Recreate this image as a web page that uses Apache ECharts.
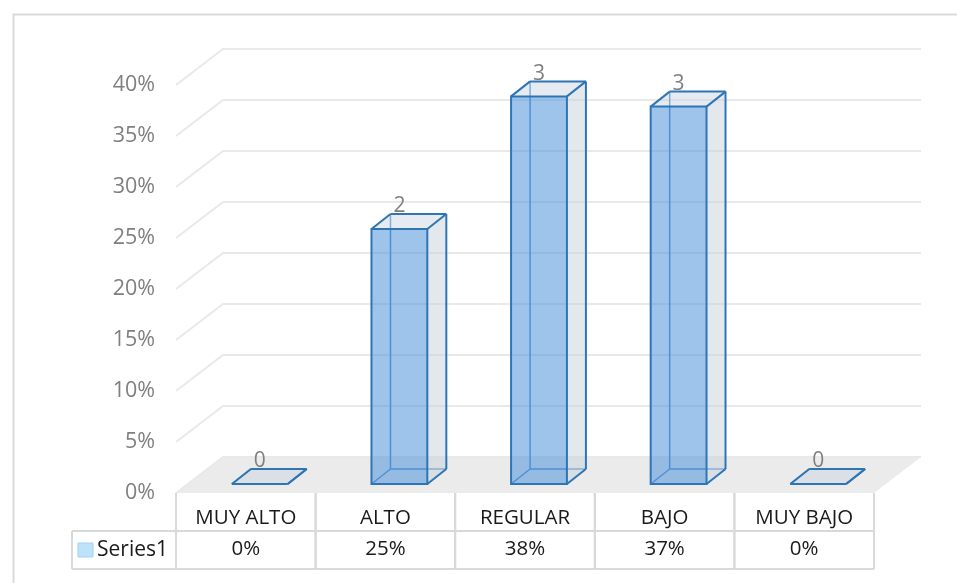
<!DOCTYPE html>
<html>
<head>
<meta charset="utf-8">
<script src="https://cdn.jsdelivr.net/npm/echarts@6/dist/echarts.min.js"></script>
<style>
  html, body { margin: 0; padding: 0; background: #fff; }
  #chart { width: 957px; height: 583px; }
</style>
</head>
<body>
<div id="chart"></div>
<script>
const categories = ['MUY ALTO', 'ALTO', 'REGULAR', 'BAJO', 'MUY BAJO'];
const percentValues = [0, 0.25, 0.38, 0.37, 0];
const countLabels = [0, 2, 3, 3, 0];
const tickValues = [0, 0.05, 0.1, 0.15, 0.2, 0.25, 0.3, 0.35, 0.4];
const seriesName = 'Series1';

const chart = echarts.init(document.getElementById('chart'));

// depth of the 3d floor / back wall
const DX = 47;
const DY = 36;
// bar front and back depth offsets
const FX = 14, FY = 9;
const BX = 33, BY = 24;

const FONT = '"Open Sans", "Liberation Sans", sans-serif';
const pct = v => Math.round(v * 100) + '%';

function renderGridLine(params, api) {
  const cs = params.coordSys;
  const y = api.coord([0, api.value(1)])[1];
  return {
    type: 'polyline',
    shape: { points: [[cs.x, y], [cs.x + DX, y - DY], [cs.x + cs.width + DX, y - DY]] },
    style: { stroke: '#e9e9e9', lineWidth: 2, fill: null }
  };
}

function renderFloor(params, api) {
  const cs = params.coordSys;
  const y = api.coord([0, 0])[1];
  return {
    type: 'polygon',
    shape: { points: [[cs.x, y], [cs.x + cs.width, y], [cs.x + cs.width + DX, y - DY], [cs.x + DX, y - DY]] },
    style: { fill: '#ebebeb' }
  };
}

function renderBar(params, api) {
  const i = api.value(0);
  const v = api.value(1);
  const c0 = api.coord([i, 0]);
  const c1 = api.coord([i, v]);
  const bw = api.size([1, 0])[0];
  const w = bw * 0.4;
  const x0 = c0[0] - w / 2 + FX, x1 = x0 + w;
  const yb = c0[1] - FY, yt = c1[1] - FY;
  const X0 = c0[0] - w / 2 + BX, X1 = X0 + w;
  const Yb = c0[1] - BY, Yt = c1[1] - BY;
  const hidden = { stroke: '#4a8bd0', lineWidth: 1.5 };
  const edge = { stroke: '#2e75b6', lineWidth: 2 };
  const line = (a, b, st) => ({ type: 'line', shape: { x1: a[0], y1: a[1], x2: b[0], y2: b[1] }, style: st });
  return {
    type: 'group',
    children: [
      line([X0, Yb], [X0, Yt], hidden),
      line([X0, Yb], [X1, Yb], hidden),
      line([x0, yb], [X0, Yb], hidden),
      { type: 'polygon', shape: { points: [[x1, yb], [X1, Yb], [X1, Yt], [x1, yt]] }, style: { fill: 'rgba(200,210,220,0.5)' } },
      { type: 'polygon', shape: { points: [[x0, yt], [x1, yt], [X1, Yt], [X0, Yt]] }, style: { fill: 'rgba(200,210,224,0.45)' } },
      { type: 'rect', shape: { x: x0, y: yt, width: w, height: yb - yt }, style: { fill: 'rgba(80,148,220,0.55)' } },
      { type: 'rect', shape: { x: x0, y: yt, width: w, height: yb - yt }, style: { fill: null, stroke: '#2e75b6', lineWidth: 2 } },
      line([x0, yt], [X0, Yt], edge),
      line([x1, yt], [X1, Yt], edge),
      line([X0, Yt], [X1, Yt], edge),
      line([X1, Yt], [X1, Yb], edge),
      line([x1, yb], [X1, Yb], edge),
      {
        type: 'text',
        style: {
          text: String(countLabels[i]), x: x0 + w / 2, y: Yt + 3,
          align: 'center', verticalAlign: 'bottom',
          fill: '#808080', font: '21px ' + FONT
        }
      }
    ]
  };
}

function renderTable(params, api) {
  const i = api.value(0);
  const c = api.coord([i, 0]);
  const bw = api.size([1, 0])[0];
  const l = c[0] - bw / 2, r = c[0] + bw / 2;
  const top = c[1], mid = top + 38, bot = top + 76;
  const st = { stroke: '#d9d9d9', lineWidth: 2 };
  const line = (x1, y1, x2, y2) => ({ type: 'line', shape: { x1, y1, x2, y2 }, style: st });
  const children = [
    line(l, top, l, bot),
    line(r, top, r, bot),
    line(l, mid, r, mid),
    line(l, bot, r, bot)
  ];
  if (i === 0) {
    const lx = l - 104;
    children.push(
      line(lx, mid, l, mid),
      line(lx, bot, l, bot),
      line(lx, mid, lx, bot),
      { type: 'rect', shape: { x: lx + 6, y: mid + 12, width: 15, height: 14 }, style: { fill: '#bde3fb', stroke: '#9fd3f7', lineWidth: 1 } },
      { type: 'text', style: { text: seriesName, x: lx + 25, y: (mid + bot) / 2, verticalAlign: 'middle', fill: '#1a1a1a', font: '21px ' + FONT } }
    );
  }
  return { type: 'group', children };
}

const option = {
  animation: false,
  graphic: [
    { type: 'rect', left: 11, top: 12, shape: { width: 1000, height: 600 }, style: { fill: null, stroke: '#d9d9d9', lineWidth: 2 } }
  ],
  grid: { left: 176, right: 83, top: 85, bottom: 90 },
  xAxis: {
    type: 'category',
    data: categories,
    axisLine: { show: false },
    axisTick: { show: false },
    axisLabel: {
      margin: 10,
      interval: 0,
      color: '#1a1a1a',
      fontSize: 20.5,
      fontFamily: FONT,
      lineHeight: 31,
      formatter: (name, idx) => name + '\n' + pct(percentValues[idx])
    }
  },
  yAxis: {
    type: 'value',
    min: 0,
    max: 0.4,
    interval: 0.05,
    axisLine: { show: false },
    axisTick: { show: false },
    splitLine: { show: false },
    axisLabel: { margin: 21, color: '#7f7f7f', fontSize: 21.5, fontFamily: FONT, formatter: pct }
  },
  series: [
    { type: 'custom', clip: false, z: 1, renderItem: renderFloor, data: [[0, 0]] },
    { type: 'custom', clip: false, z: 2, renderItem: renderGridLine, data: tickValues.map(v => [0, v]) },
    { type: 'custom', clip: false, z: 3, renderItem: renderTable, data: categories.map((c, i) => [i, 0]) },
    { type: 'custom', name: seriesName, clip: false, z: 4, renderItem: renderBar, data: percentValues.map((v, i) => [i, v]) }
  ]
};

chart.setOption(option);
window.addEventListener('resize', () => chart.resize());
</script>
</body>
</html>
